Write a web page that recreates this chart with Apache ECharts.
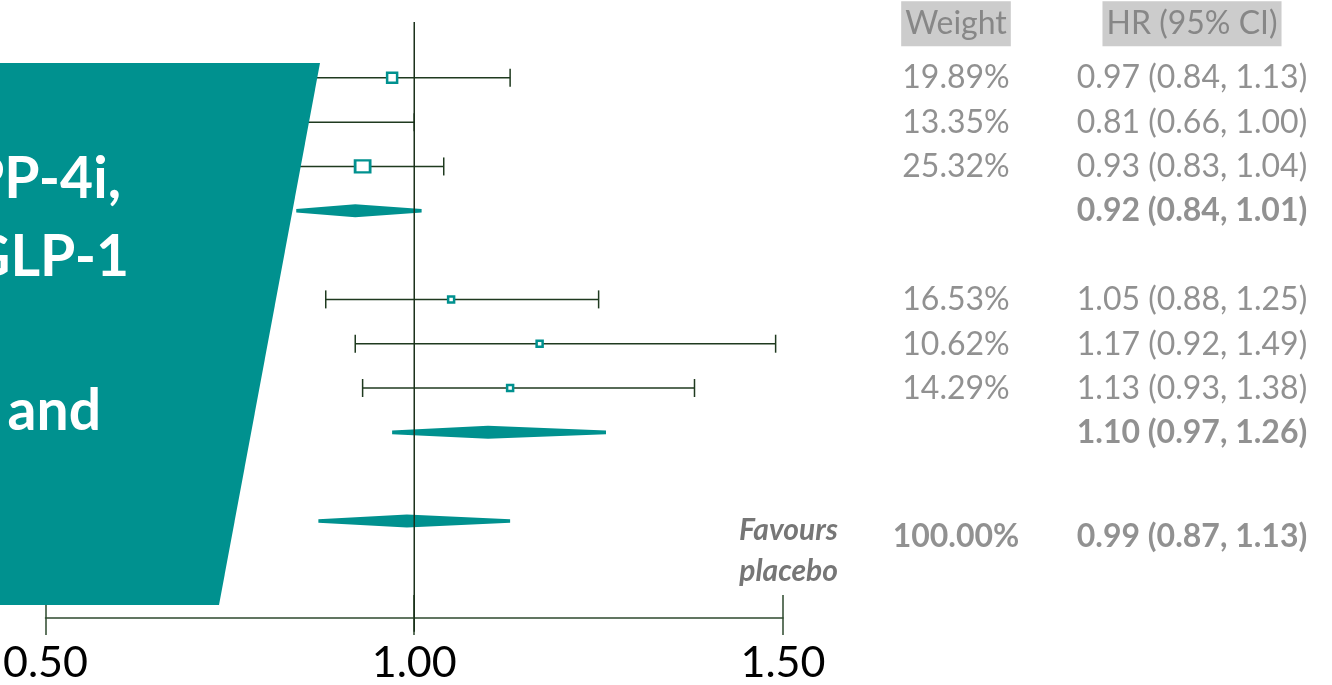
<!DOCTYPE html>
<html>
<head>
<meta charset="utf-8">
<script src="https://cdn.jsdelivr.net/npm/echarts@6/dist/echarts.min.js"></script>
<style>
html,body{margin:0;padding:0;background:#fff;}
#chart{width:1332px;height:685px;}
</style>
</head>
<body>
<div id="chart"></div>
<script>
// ---- data ----
const est    = [0.97, 0.81, 0.93, 0.92, 1.05, 1.17, 1.13, 1.10, 0.99];
const lower  = [0.84, 0.66, 0.83, 0.84, 0.88, 0.92, 0.93, 0.97, 0.87];
const upper  = [1.13, 1.00, 1.04, 1.01, 1.25, 1.49, 1.38, 1.26, 1.13];
const weight = [19.89, 13.35, 25.32, null, 16.53, 10.62, 14.29, null, 100.00];
const kind   = ['study', 'study', 'study', 'pooled', 'study', 'study', 'study', 'pooled', 'overall'];
const rowSlot = [0, 1, 2, 3, 5, 6, 7, 8, 10];
const columnHeaders = ['Weight', 'HR (95% CI)'];
const xTicks = [0.50, 1.00, 1.50];
const favoursText = ['Favours', 'placebo'];
const panelText = ['DPP-4i,', 'GLP-1', 'and'];

// ---- styles ----
const TEAL = '#00918f';
const DARK = '#1f3a1f';
const GREY = '#767676';
const FONT = 'Lato, "Open Sans", sans-serif';
const squareSizes = [[10, 10], [9, 9], [15, 12], null, [6, 6], [6, 6], [6, 6], null, null];

const studyIdx = kind.map((k, i) => k === 'study' ? i : -1).filter(i => i >= 0);
const diamondIdx = kind.map((k, i) => k !== 'study' ? i : -1).filter(i => i >= 0);

const ciData = studyIdx.map(i => [lower[i], upper[i], rowSlot[i]]);
const squareData = studyIdx.map(i => ({ value: [est[i], rowSlot[i]], symbolSize: squareSizes[i] }));
const diamondData = diamondIdx.map(i => [lower[i], est[i], upper[i], rowSlot[i]]);

const fmt = v => v.toFixed(2);
const textData = [];
columnHeaders.forEach((h, c) => textData.push({ value: [c, -1.22], txt: h, header: true }));
est.forEach((e, i) => {
  const bold = kind[i] !== 'study';
  const off = kind[i] === 'overall' ? [0, 15] : [0, 0];
  if (weight[i] !== null) textData.push({ value: [0, rowSlot[i]], txt: weight[i].toFixed(2) + '%', bold: bold, off: off });
  textData.push({ value: [1, rowSlot[i]], txt: fmt(e) + ' (' + fmt(lower[i]) + ', ' + fmt(upper[i]) + ')', bold: bold, off: off });
});

const Y_MIN = -1.26, Y_MAX = 12.19;

const chart = echarts.init(document.getElementById('chart'), null, { renderer: 'canvas' });
const option = {
  backgroundColor: '#ffffff',
  animation: false,
  grid: [
    { left: 44, right: 549, top: 22, bottom: 66 },
    { left: 838, width: 472, top: 22, bottom: 66 }
  ],
  xAxis: [
    {
      gridIndex: 0, type: 'value', min: xTicks[0], max: xTicks[xTicks.length - 1], interval: xTicks[1] - xTicks[0], position: 'bottom',
      axisLine: { show: true, onZero: false, lineStyle: { color: '#2e4a2e', width: 1.5 } },
      axisTick: { show: true, inside: true, length: 23, lineStyle: { color: '#2e4a2e', width: 1.5 } },
      axisLabel: { show: true, margin: 24, fontFamily: FONT, fontSize: 43, color: '#000', formatter: v => v.toFixed(2) },
      splitLine: { show: false }
    },
    {
      gridIndex: 0, type: 'value', min: xTicks[0], max: xTicks[xTicks.length - 1], interval: xTicks[1] - xTicks[0], position: 'bottom',
      axisLine: { show: false, onZero: false },
      axisTick: { show: true, inside: false, length: 17, lineStyle: { color: '#2e4a2e', width: 1.5 } },
      axisLabel: { show: false },
      splitLine: { show: false }
    },
    {
      gridIndex: 1, type: 'category', data: columnHeaders, show: false
    }
  ],
  yAxis: [
    { gridIndex: 0, type: 'value', min: Y_MIN, max: Y_MAX, inverse: true, show: false },
    { gridIndex: 1, type: 'value', min: Y_MIN, max: Y_MAX, inverse: true, show: false }
  ],
  series: [
    {
      name: 'ci', type: 'custom', xAxisIndex: 0, yAxisIndex: 0, z: 2,
      encode: { x: [0, 1], y: 2 },
      data: ciData,
      renderItem: function (params, api) {
        const p1 = api.coord([api.value(0), api.value(2)]);
        const p2 = api.coord([api.value(1), api.value(2)]);
        const st = { stroke: DARK, lineWidth: 1.5 };
        const cap = 9;
        return {
          type: 'group',
          children: [
            { type: 'line', shape: { x1: p1[0], y1: p1[1], x2: p2[0], y2: p2[1] }, style: st },
            { type: 'line', shape: { x1: p1[0], y1: p1[1] - cap, x2: p1[0], y2: p1[1] + cap }, style: st },
            { type: 'line', shape: { x1: p2[0], y1: p2[1] - cap, x2: p2[0], y2: p2[1] + cap }, style: st }
          ]
        };
      }
    },
    {
      name: 'estimate', type: 'scatter', xAxisIndex: 0, yAxisIndex: 0, z: 3,
      symbol: 'rect',
      data: squareData,
      itemStyle: { color: '#ffffff', borderColor: TEAL, borderWidth: 2.5, opacity: 1 }
    },
    {
      name: 'pooled', type: 'custom', xAxisIndex: 0, yAxisIndex: 0, z: 3,
      encode: { x: [0, 1, 2], y: 3 },
      data: diamondData,
      renderItem: function (params, api) {
        const y = api.value(3);
        const a = api.coord([api.value(0), y]);
        const m = api.coord([api.value(1), y]);
        const b = api.coord([api.value(2), y]);
        const h = 6.5, t = 1.8;
        return {
          type: 'polygon',
          shape: { points: [[a[0], a[1] - t], [m[0], m[1] - h], [b[0], b[1] - t], [b[0], b[1] + t], [m[0], m[1] + h], [a[0], a[1] + t]] },
          style: { fill: TEAL }
        };
      }
    },
    {
      name: 'ref', type: 'line', xAxisIndex: 0, yAxisIndex: 0, z: 5, clip: false, silent: true,
      symbol: 'none',
      data: [[1, Y_MIN], [1, 12.5]],
      lineStyle: { color: '#1a301a', width: 1.5 }
    },
    {
      name: 'table', type: 'scatter', xAxisIndex: 2, yAxisIndex: 1, symbolSize: 0, silent: true,
      data: textData.map(d => ({
        value: d.value,
        label: d.header ? {
          show: true, position: 'inside', formatter: d.txt, fontFamily: FONT, fontSize: 32, color: GREY,
          backgroundColor: '#bfbfbf', padding: [4, 4, 3, 4], lineHeight: 38
        } : {
          show: true, position: 'inside', formatter: d.txt, fontFamily: FONT, fontSize: 32, color: GREY,
          fontWeight: d.bold ? 'bold' : 'normal', offset: d.off
        }
      }))
    }
  ],
  graphic: [
    {
      type: 'polygon', z: 100,
      shape: { points: [[-2, 63], [320, 63], [219, 605], [-2, 605]] },
      style: { fill: TEAL }
    },
    { type: 'text', z: 101, x: 121, y: 180, style: { text: panelText[0], fill: '#fff', font: 'bold 57px ' + FONT, textAlign: 'right', textVerticalAlign: 'middle' } },
    { type: 'text', z: 101, x: 129, y: 258, style: { text: panelText[1], fill: '#fff', font: 'bold 57px ' + FONT, textAlign: 'right', textVerticalAlign: 'middle' } },
    { type: 'text', z: 101, x: 101, y: 412, style: { text: panelText[2], fill: '#fff', font: 'bold 57px ' + FONT, textAlign: 'right', textVerticalAlign: 'middle' } },
    { type: 'text', z: 101, x: 838, y: 530, style: { text: favoursText[0], fill: GREY, font: 'italic bold 30px ' + FONT, textAlign: 'right', textVerticalAlign: 'middle' } },
    { type: 'text', z: 101, x: 838, y: 571, style: { text: favoursText[1], fill: GREY, font: 'italic bold 30px ' + FONT, textAlign: 'right', textVerticalAlign: 'middle' } }
  ]
};
chart.setOption(option);
</script>
</body>
</html>
